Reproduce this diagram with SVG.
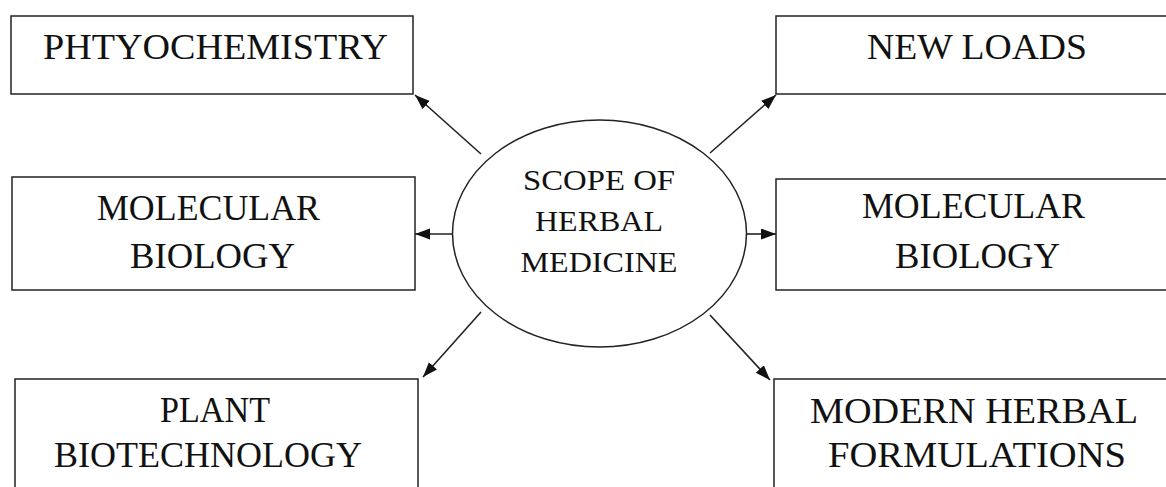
<svg xmlns="http://www.w3.org/2000/svg" width="1166" height="487" viewBox="0 0 1166 487">
<style>
.box{fill:#fff;stroke:#222;stroke-width:1.5}
.lbl{font-family:"Liberation Serif","Times New Roman",serif;font-size:36px;fill:#111;text-anchor:middle}
.clbl{font-family:"Liberation Serif","Times New Roman",serif;font-size:30px;fill:#111;text-anchor:middle}
.con{stroke:#222;stroke-width:1.6;fill:none;marker-end:url(#ah)}
</style>
<defs>
<marker id="ah" markerUnits="userSpaceOnUse" markerWidth="16" markerHeight="12" refX="15" refY="5.5" orient="auto">
<path d="M0,0 L15,5.5 L0,11 z" fill="#111"/>
</marker>
</defs>
<rect width="1166" height="487" fill="#fff"/>
<g id="connectors">
<line class="con" x1="481" y1="154" x2="415" y2="95"/>
<line class="con" x1="453" y1="234" x2="415" y2="234"/>
<line class="con" x1="481" y1="312" x2="423" y2="377"/>
<line class="con" x1="710" y1="153" x2="776" y2="95"/>
<line class="con" x1="747" y1="234" x2="776" y2="234"/>
<line class="con" x1="710" y1="315" x2="770" y2="380"/>
</g>
<g id="center">
<ellipse cx="599.5" cy="233.5" rx="147" ry="113.5" fill="#fff" stroke="#222" stroke-width="1.5"/>
<text class="clbl" x="599" y="190" textLength="152" lengthAdjust="spacingAndGlyphs">SCOPE OF</text>
<text class="clbl" x="599" y="231" textLength="128" lengthAdjust="spacingAndGlyphs">HERBAL</text>
<text class="clbl" x="599" y="272" textLength="157" lengthAdjust="spacingAndGlyphs">MEDICINE</text>
</g>
<g id="phytochemistry">
<rect class="box" x="11" y="16" width="402" height="78"/>
<text class="lbl" x="215.5" y="59" textLength="345" lengthAdjust="spacingAndGlyphs">PHTYOCHEMISTRY</text>
</g>
<g id="molecular-left">
<rect class="box" x="12" y="177" width="403" height="113"/>
<text class="lbl" x="208.5" y="220" textLength="223" lengthAdjust="spacingAndGlyphs">MOLECULAR</text>
<text class="lbl" x="212.5" y="268" textLength="165" lengthAdjust="spacingAndGlyphs">BIOLOGY</text>
</g>
<g id="plant-biotech">
<rect class="box" x="15" y="379" width="403" height="120"/>
<text class="lbl" x="215" y="422" textLength="110" lengthAdjust="spacingAndGlyphs">PLANT</text>
<text class="lbl" x="208" y="467" textLength="308" lengthAdjust="spacingAndGlyphs">BIOTECHNOLOGY</text>
</g>
<g id="new-loads">
<rect class="box" x="776" y="16" width="400" height="78"/>
<text class="lbl" x="977" y="59" textLength="220" lengthAdjust="spacingAndGlyphs">NEW LOADS</text>
</g>
<g id="molecular-right">
<rect class="box" x="776" y="179" width="400" height="111"/>
<text class="lbl" x="973.5" y="218" textLength="223" lengthAdjust="spacingAndGlyphs">MOLECULAR</text>
<text class="lbl" x="977.5" y="268" textLength="165" lengthAdjust="spacingAndGlyphs">BIOLOGY</text>
</g>
<g id="modern-herbal">
<rect class="box" x="774" y="379" width="402" height="120"/>
<text class="lbl" x="974" y="423" textLength="328" lengthAdjust="spacingAndGlyphs">MODERN HERBAL</text>
<text class="lbl" x="977" y="467" textLength="298" lengthAdjust="spacingAndGlyphs">FORMULATIONS</text>
</g>
</svg>
